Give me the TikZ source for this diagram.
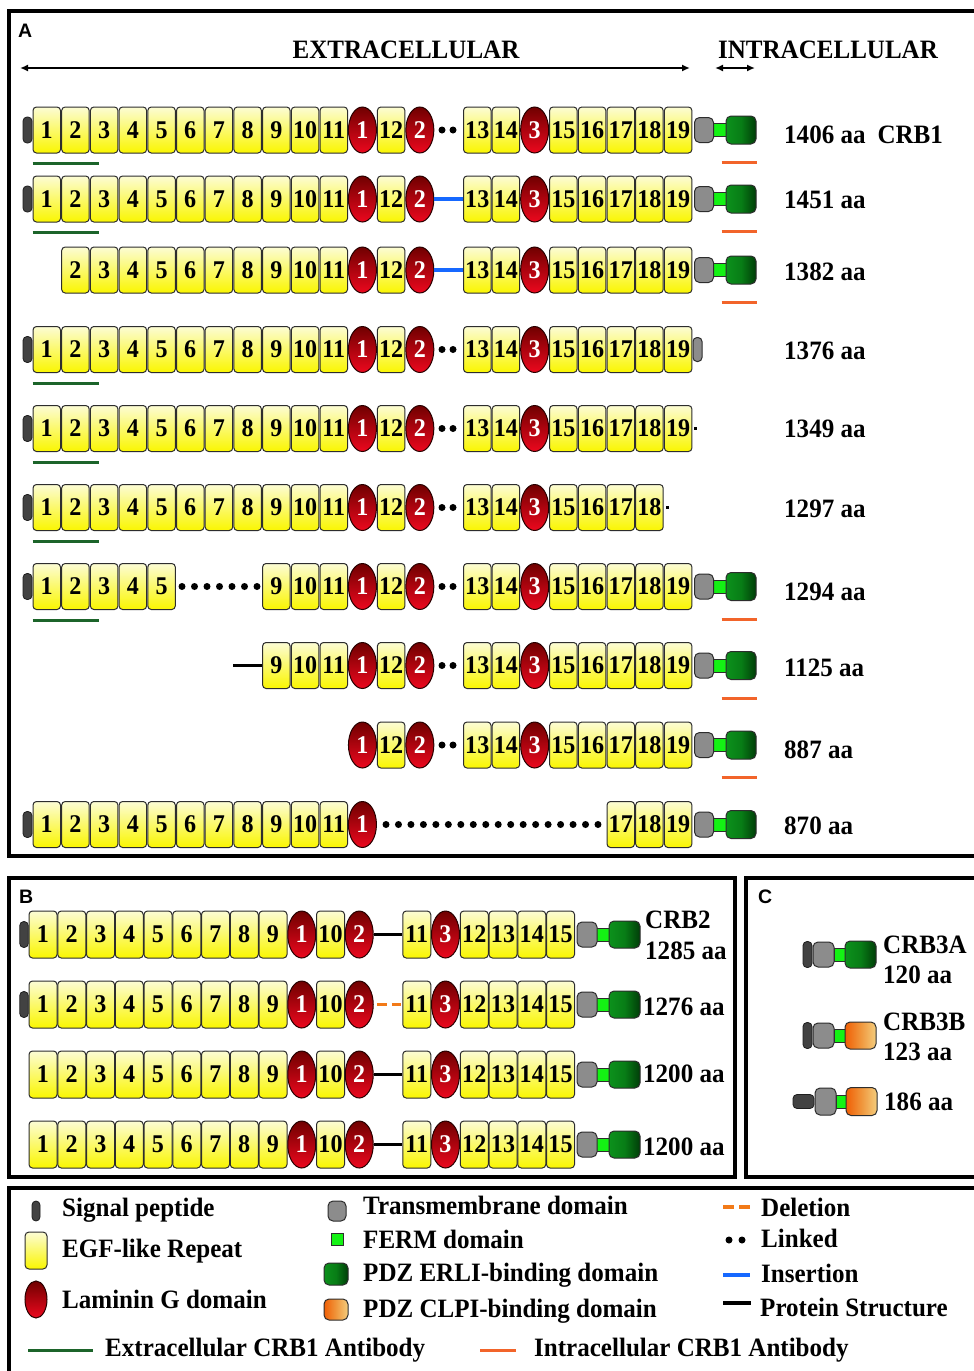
\documentclass[tikz,border=0pt]{standalone}
\usepackage{fontspec}
\setmainfont[FakeStretch=0.945]{Liberation Serif}
\newfontfamily\panelfont{Liberation Sans}
\usetikzlibrary{shapes.geometric,arrows.meta}
\definecolor{egftop}{RGB}{252,252,212}
\definecolor{egfbot}{RGB}{250,246,0}
\definecolor{boxline}{RGB}{45,45,45}
\definecolor{lamline}{RGB}{40,0,0}
\definecolor{lamtop}{RGB}{112,0,0}
\definecolor{lambot}{RGB}{236,8,30}
\definecolor{sigcol}{RGB}{66,66,66}
\definecolor{sigline}{RGB}{30,30,30}
\definecolor{tmcol}{RGB}{140,140,140}
\definecolor{fermcol}{RGB}{20,242,20}
\definecolor{pdzL}{RGB}{12,145,28}
\definecolor{pdzM}{RGB}{8,125,22}
\definecolor{pdzR}{RGB}{0,62,8}
\definecolor{clpiL}{RGB}{240,95,5}
\definecolor{clpiM}{RGB}{240,150,60}
\definecolor{clpiR}{RGB}{244,205,125}
\definecolor{abgreen}{RGB}{28,100,42}
\definecolor{aborange}{RGB}{242,100,42}
\definecolor{insblue}{RGB}{22,104,255}
\definecolor{delorange}{RGB}{242,122,24}
\newcommand{\numfont}{\fontsize{25.5}{25.5}\selectfont\bfseries}
\newcommand{\lblfont}{\fontsize{26.5}{27}\selectfont\bfseries}
% EGF run in panel A: prefix, y, first slot, last slot, number offset
\newcommand{\egfA}[5]{\foreach \k in {#3,...,#4}{\pgfmathtruncatemacro{\nn}{\k+(#5)}\node[egf] (#1b\nn) at ({46.75+28.7*\k},#2) {\nn};}}
\newcommand{\lamA}[4]{\node[lam] (#1e#4) at ({46.75+28.7*#3},#2) {#4};}
\newcommand{\dotsA}[2]{\node[dot] (#1d1) at (442,#2) {};\node[dot] (#1d2) at (453,#2) {};}
\newcommand{\tailA}[2]{\node[ferm] (#1f) at (719.5,#2) {};\node[tmd] (#1t) at (704,#2) {};\node[pdz] (#1p) at (741,#2) {};}
\newcommand{\egfB}[5]{\foreach \k in {#3,...,#4}{\pgfmathtruncatemacro{\nn}{\k+(#5)}\node[egf,minimum width=28pt,minimum height=47pt] (#1b\nn) at ({43+28.75*\k},#2) {\nn};}}
\newcommand{\lamB}[4]{\node[lam,minimum height=47pt] (#1e#4) at ({43+28.75*#3},#2) {#4};}
\newcommand{\tailB}[2]{\node[ferm] (#1f) at (603,#2) {};\node[tmd,minimum width=20pt] (#1t) at (587,#2) {};\node[pdz,minimum width=31pt,minimum height=27pt] (#1p) at (624.5,#2) {};}
\newcommand{\rowB}[2]{\egfB{#1}{#2}{0}{8}{1}\lamB{#1}{#2}{9}{1}\egfB{#1}{#2}{10}{10}{0}\lamB{#1}{#2}{11}{2}\egfB{#1}{#2}{13}{13}{-2}\lamB{#1}{#2}{14}{3}\egfB{#1}{#2}{15}{18}{-3}\tailB{#1}{#2}}
\begin{document}
\begin{tikzpicture}[x=1pt,y=-1pt,
 egf/.style={draw=boxline,line width=1pt,rounded corners=3.5pt,top color=egftop,bottom color=egfbot,minimum width=27.5pt,minimum height=46pt,inner sep=0pt,font=\numfont},
 lam/.style={ellipse,draw=lamline,line width=1pt,top color=lamtop,bottom color=lambot,minimum width=28pt,minimum height=46pt,inner sep=0pt,text=white,font=\numfont},
 sigp/.style={draw=sigline,fill=sigcol,line width=0.8pt,rounded corners=4pt,minimum width=9pt,minimum height=26pt,inner sep=0pt},
 tmd/.style={draw=boxline,fill=tmcol,line width=1pt,rounded corners=5pt,minimum width=19pt,minimum height=25pt,inner sep=0pt},
 ferm/.style={draw=boxline,fill=fermcol,line width=0.8pt,minimum width=13pt,minimum height=13pt,inner sep=0pt},
 pdz/.style={draw=boxline,line width=1pt,rounded corners=5pt,left color=pdzL,right color=pdzR,middle color=pdzM,minimum width=30pt,minimum height=28pt,inner sep=0pt},
 clpi/.style={draw=boxline,line width=1pt,rounded corners=5pt,left color=clpiL,right color=clpiR,middle color=clpiM,minimum width=31pt,minimum height=27pt,inner sep=0pt},
 dot/.style={circle,fill=black,minimum size=7pt,inner sep=0pt},
 endsq/.style={fill=black,minimum size=3pt,inner sep=0pt},
 abg/.style={draw=abgreen,line width=3pt},
 abo/.style={draw=aborange,line width=3pt},
 ins/.style={draw=insblue,line width=3.5pt},
 struct/.style={draw=black,line width=3.5pt},
 del/.style={draw=delorange,line width=3.5pt,dash pattern=on 10pt off 5pt},
 lbl/.style={anchor=base west,inner sep=0pt,font=\lblfont},
 panel/.style={draw=black,line width=3.5pt},
 plet/.style={anchor=base west,inner sep=0pt,font=\panelfont\bfseries\fontsize{19.5}{20}\selectfont},
 hdarrow/.style={draw=black,line width=2pt,{Latex[length=8pt,width=7pt]}-{Latex[length=8pt,width=7pt]}}
]
\useasboundingbox (0,0) rectangle (974,1371);
\clip (0,0) rectangle (974,1371);
\fill[white] (0,0) rectangle (974,1371);
% panels
\draw[panel] (9,11) rectangle (990,856);
\draw[panel] (9,878) rectangle (735,1177);
\draw[panel] (746,878) rectangle (990,1177);
\draw[panel] (9,1188) rectangle (990,1390);
\node[plet] (pA) at (18,37) {A};
\node[plet] (pB) at (19,903) {B};
\node[plet] (pC) at (758,903) {C};
% header
\node[anchor=base,inner sep=0pt,font=\lblfont] (hex) at (406,58) {EXTRACELLULAR};
\node[anchor=base,inner sep=0pt,font=\lblfont] (hin) at (828,58) {INTRACELLULAR};
\coordinate (exl) at (20,68); \coordinate (exr) at (690,68);
\coordinate (inl) at (715,68); \coordinate (inr) at (755,68);
\draw[hdarrow] (exl) -- (exr);
\draw[hdarrow] (inl) -- (inr);
% ---------- Row 1 ----------
\node[sigp] (r1s) at (27.5,130) {};
\egfA{r1}{130}{0}{10}{1}\lamA{r1}{130}{11}{1}\egfA{r1}{130}{12}{12}{0}\lamA{r1}{130}{13}{2}
\dotsA{r1}{130}
\egfA{r1}{130}{15}{16}{-2}\lamA{r1}{130}{17}{3}\egfA{r1}{130}{18}{22}{-3}\tailA{r1}{130}
\draw[abg] ([yshift=-10pt]r1b1.south west) -- ++(66,0);
\draw[abo] ([xshift=-4pt,yshift=-18pt]r1p.south west) -- ++(35,0);
\node[lbl] (r1l) at (784,143) {1406 aa\hspace{0.45em}CRB1};
% ---------- Row 2 ----------
\node[sigp] (r2s) at (27.5,199) {};
\egfA{r2}{199}{0}{10}{1}\lamA{r2}{199}{11}{1}\egfA{r2}{199}{12}{12}{0}\lamA{r2}{199}{13}{2}
\egfA{r2}{199}{15}{16}{-2}\lamA{r2}{199}{17}{3}\egfA{r2}{199}{18}{22}{-3}\tailA{r2}{199}
\draw[ins] (r2e2.east) -- (r2b13.west);
\draw[abg] ([yshift=-10pt]r2b1.south west) -- ++(66,0);
\draw[abo] ([xshift=-4pt,yshift=-18pt]r2p.south west) -- ++(35,0);
\node[lbl] (r2l) at (784,208) {1451 aa};
% ---------- Row 3 ----------
\egfA{r3}{270}{1}{10}{1}\lamA{r3}{270}{11}{1}\egfA{r3}{270}{12}{12}{0}\lamA{r3}{270}{13}{2}
\egfA{r3}{270}{15}{16}{-2}\lamA{r3}{270}{17}{3}\egfA{r3}{270}{18}{22}{-3}\tailA{r3}{270}
\draw[ins] (r3e2.east) -- (r3b13.west);
\draw[abo] ([xshift=-4pt,yshift=-18pt]r3p.south west) -- ++(35,0);
\node[lbl] (r3l) at (784,280) {1382 aa};
% ---------- Row 4 ----------
\node[sigp] (r4s) at (27.5,349.5) {};
\egfA{r4}{349.5}{0}{10}{1}\lamA{r4}{349.5}{11}{1}\egfA{r4}{349.5}{12}{12}{0}\lamA{r4}{349.5}{13}{2}
\dotsA{r4}{349.5}
\egfA{r4}{349.5}{15}{16}{-2}\lamA{r4}{349.5}{17}{3}\egfA{r4}{349.5}{18}{22}{-3}
\node[tmd,minimum width=9pt,minimum height=24pt,rounded corners=4pt] (r4t) at (697.5,349.5) {};
\draw[abg] ([yshift=-10pt]r4b1.south west) -- ++(66,0);
\node[lbl] (r4l) at (784,359) {1376 aa};
% ---------- Row 5 ----------
\node[sigp] (r5s) at (27.5,428.5) {};
\egfA{r5}{428.5}{0}{10}{1}\lamA{r5}{428.5}{11}{1}\egfA{r5}{428.5}{12}{12}{0}\lamA{r5}{428.5}{13}{2}
\dotsA{r5}{428.5}
\egfA{r5}{428.5}{15}{16}{-2}\lamA{r5}{428.5}{17}{3}\egfA{r5}{428.5}{18}{22}{-3}
\node[endsq] (r5q) at (695.5,428.5) {};
\draw[abg] ([yshift=-10pt]r5b1.south west) -- ++(66,0);
\node[lbl] (r5l) at (784,437) {1349 aa};
% ---------- Row 6 ----------
\node[sigp] (r6s) at (27.5,507.5) {};
\egfA{r6}{507.5}{0}{10}{1}\lamA{r6}{507.5}{11}{1}\egfA{r6}{507.5}{12}{12}{0}\lamA{r6}{507.5}{13}{2}
\dotsA{r6}{507.5}
\egfA{r6}{507.5}{15}{16}{-2}\lamA{r6}{507.5}{17}{3}\egfA{r6}{507.5}{18}{21}{-3}
\node[endsq] (r6q) at (667,507.5) {};
\draw[abg] ([yshift=-10pt]r6b1.south west) -- ++(66,0);
\node[lbl] (r6l) at (784,517) {1297 aa};
% ---------- Row 7 ----------
\node[sigp] (r7s) at (27.5,586.5) {};
\egfA{r7}{586.5}{0}{4}{1}
\foreach \i/\xx in {1/182,2/194.5,3/207,4/219.5,5/232,6/244.5,7/257}{\node[dot] (r7m\i) at (\xx,586.5) {};}
\egfA{r7}{586.5}{8}{10}{1}\lamA{r7}{586.5}{11}{1}\egfA{r7}{586.5}{12}{12}{0}\lamA{r7}{586.5}{13}{2}
\dotsA{r7}{586.5}
\egfA{r7}{586.5}{15}{16}{-2}\lamA{r7}{586.5}{17}{3}\egfA{r7}{586.5}{18}{22}{-3}\tailA{r7}{586.5}
\draw[abg] ([yshift=-10pt]r7b1.south west) -- ++(66,0);
\draw[abo] ([xshift=-4pt,yshift=-18pt]r7p.south west) -- ++(35,0);
\node[lbl] (r7l) at (784,600) {1294 aa};
% ---------- Row 8 ----------
\coordinate (r8start) at (233,665.5);
\egfA{r8}{665.5}{8}{10}{1}\lamA{r8}{665.5}{11}{1}\egfA{r8}{665.5}{12}{12}{0}\lamA{r8}{665.5}{13}{2}
\dotsA{r8}{665.5}
\egfA{r8}{665.5}{15}{16}{-2}\lamA{r8}{665.5}{17}{3}\egfA{r8}{665.5}{18}{22}{-3}\tailA{r8}{665.5}
\draw[struct,line width=3pt] (r8start) -- (r8b9.west);
\draw[abo] ([xshift=-4pt,yshift=-18pt]r8p.south west) -- ++(35,0);
\node[lbl] (r8l) at (784,676) {1125 aa};
% ---------- Row 9 ----------
\lamA{r9}{745}{11}{1}\egfA{r9}{745}{12}{12}{0}\lamA{r9}{745}{13}{2}
\dotsA{r9}{745}
\egfA{r9}{745}{15}{16}{-2}\lamA{r9}{745}{17}{3}\egfA{r9}{745}{18}{22}{-3}\tailA{r9}{745}
\draw[abo] ([xshift=-4pt,yshift=-18pt]r9p.south west) -- ++(35,0);
\node[lbl] (r9l) at (784,758) {887 aa};
% ---------- Row 10 ----------
\node[sigp] (r10s) at (27.5,824.5) {};
\egfA{r10}{824.5}{0}{10}{1}\lamA{r10}{824.5}{11}{1}
\foreach \i in {0,...,17}{\node[dot] (r10m\i) at ({386+12.47*\i},824.5) {};}
\egfA{r10}{824.5}{20}{22}{-3}\tailA{r10}{824.5}
\node[lbl] (r10l) at (784,834) {870 aa};
% ================= Panel B =================
\node[sigp,minimum width=8.5pt] (s1s) at (24,934.5) {};
\rowB{s1}{934.5}
\draw[struct] (s1e2.east) -- (s1b11.west);
\node[lbl] (s1l) at (645,928) {CRB2};
\node[lbl] (s1m) at (645,959) {1285 aa};
\node[sigp,minimum width=8.5pt] (s2s) at (24,1004.5) {};
\rowB{s2}{1004.5}
\draw[del,shorten <=3pt,shorten >=1pt] (s2e2.east) -- (s2b11.west);
\node[lbl] (s2l) at (643,1015) {1276 aa};
\rowB{s3}{1074.5}
\draw[struct] (s3e2.east) -- (s3b11.west);
\node[lbl] (s3l) at (643,1082) {1200 aa};
\rowB{s4}{1144.5}
\draw[struct] (s4e2.east) -- (s4b11.west);
\node[lbl] (s4l) at (643,1155) {1200 aa};
% ================= Panel C =================
\node[ferm,minimum width=12pt] (c1f) at (840,954.5) {};
\node[sigp] (c1s) at (807.5,954.5) {};
\node[tmd,minimum width=21pt] (c1t) at (823.5,954.5) {};
\node[pdz,minimum width=31pt,minimum height=27pt] (c1p) at (860.5,954.5) {};
\node[lbl] (c1l) at (883,953) {CRB3A};
\node[lbl] (c1m) at (883,983) {120 aa};
\node[ferm,minimum width=12pt] (c2f) at (840,1035.5) {};
\node[sigp] (c2s) at (807.5,1035.5) {};
\node[tmd,minimum width=21pt] (c2t) at (823.5,1035.5) {};
\node[clpi] (c2p) at (860.5,1035.5) {};
\node[lbl] (c2l) at (883,1030) {CRB3B};
\node[lbl] (c2m) at (883,1060) {123 aa};
\node[ferm,minimum width=12pt] (c3f) at (842,1101.5) {};
\node[sigp,minimum width=21pt,minimum height=14pt,rounded corners=4pt] (c3s) at (803.5,1101.5) {};
\node[tmd,minimum width=21pt,minimum height=27pt] (c3t) at (825.5,1101.5) {};
\node[clpi,minimum height=28pt] (c3p) at (861.5,1101.5) {};
\node[lbl] (c3l) at (884,1110) {186 aa};
% ================= Legend =================
\node[sigp,minimum width=8pt,minimum height=20pt] (lg1) at (36,1211) {};
\node[lbl] (lt1) at (62,1216) {Signal peptide};
\node[egf,minimum width=22pt,minimum height=37pt,rounded corners=4pt] (lg2) at (36,1250.5) {};
\node[lbl] (lt2) at (62,1257) {EGF-like Repeat};
\node[lam,minimum width=22pt,minimum height=37pt] (lg3) at (36,1299.5) {};
\node[lbl] (lt3) at (62,1308) {Laminin G domain};
\coordinate (lg4a) at (28,1350); \coordinate (lg4b) at (93,1350);
\draw[abg] (lg4a) -- (lg4b);
\node[lbl] (lt4) at (105,1356) {Extracellular CRB1 Antibody};
\node[tmd,minimum width=18pt,minimum height=20pt] (lg5) at (337,1211) {};
\node[lbl] (lt5) at (363,1214) {Transmembrane domain};
\node[ferm,minimum width=12pt,minimum height=12pt] (lg6) at (337,1239) {};
\node[lbl] (lt6) at (363,1248) {FERM domain};
\node[pdz,minimum width=24pt,minimum height=22pt] (lg7) at (336,1274) {};
\node[lbl] (lt7) at (363,1281) {PDZ ERLI-binding domain};
\node[clpi,minimum width=24pt,minimum height=21pt] (lg8) at (336,1309.5) {};
\node[lbl] (lt8) at (363,1317) {PDZ CLPI-binding domain};
\coordinate (lg9a) at (480,1350); \coordinate (lg9b) at (516,1350);
\draw[abo] (lg9a) -- (lg9b);
\node[lbl] (lt9) at (534,1356) {Intracellular CRB1 Antibody};
\coordinate (lg10a) at (723,1207); \coordinate (lg10b) at (751,1207);
\draw[del,dash pattern=on 11pt off 5pt] (lg10a) -- (lg10b);
\node[lbl] (lt10) at (761,1216) {Deletion};
\node[dot] (lg11a) at (729,1240) {};
\node[dot] (lg11b) at (742,1240) {};
\node[lbl] (lt11) at (761,1247) {Linked};
\coordinate (lg12a) at (723,1275); \coordinate (lg12b) at (750,1275);
\draw[ins] (lg12a) -- (lg12b);
\node[lbl] (lt12) at (761,1282) {Insertion};
\coordinate (lg13a) at (723,1303); \coordinate (lg13b) at (751,1303);
\draw[struct,line width=4.5pt] (lg13a) -- (lg13b);
\node[lbl] (lt13) at (760,1316) {Protein Structure};
\end{tikzpicture}
\end{document}
